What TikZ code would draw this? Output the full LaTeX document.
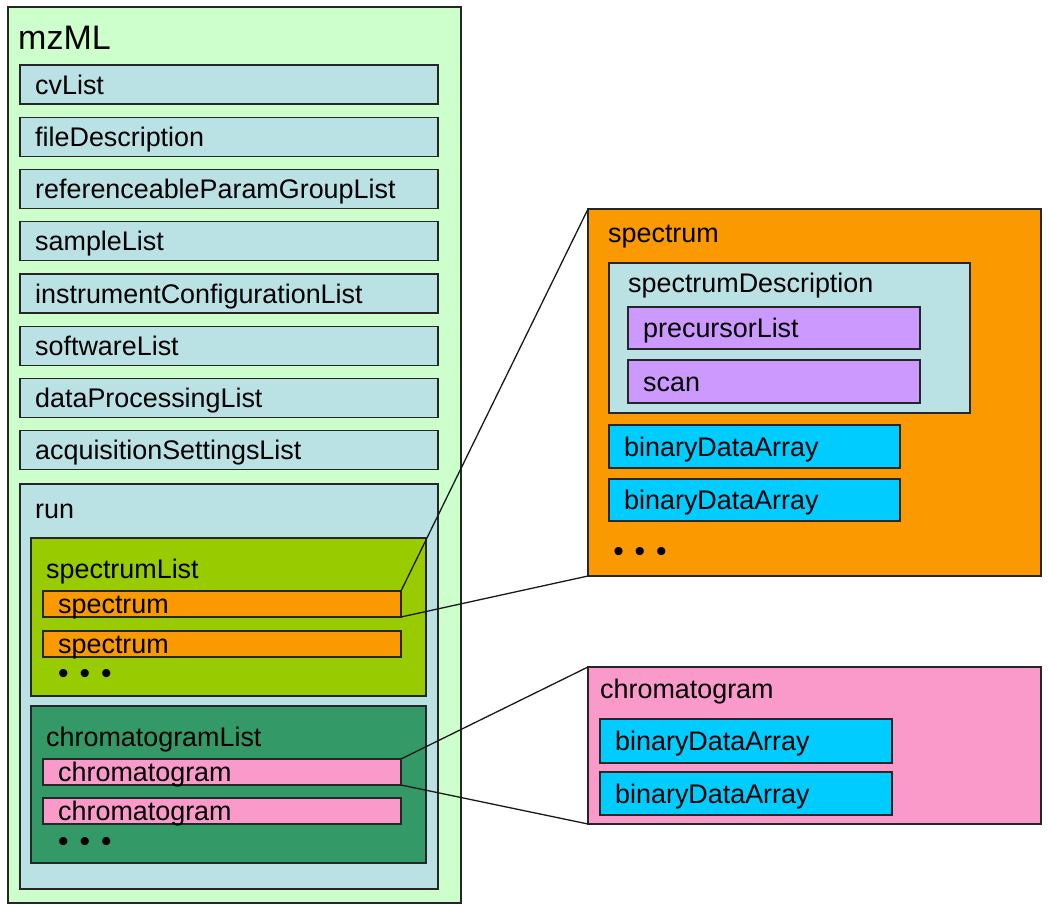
\documentclass[tikz,border=0pt]{standalone}
\usepackage{fontspec}
\setmainfont{Liberation Sans}
\usetikzlibrary{calc}
\definecolor{cmz}{HTML}{CCFFCC}
\definecolor{clist}{HTML}{BAE1E3}
\definecolor{cspl}{HTML}{99CC00}
\definecolor{cchl}{HTML}{339966}
\definecolor{cspec}{HTML}{FA9A00}
\definecolor{cchrom}{HTML}{F99ACB}
\definecolor{cpurp}{HTML}{CC99FF}
\definecolor{ccyan}{HTML}{00CCFF}
\newcommand\mybox[6]{\node[box,fill=#6,minimum width={(#4-#2)*1pt},minimum height={(#5-#3)*1pt}] (#1) at (#2,#3) {};}
\begin{document}
\begin{tikzpicture}[x=1pt,y=-1pt,
  box/.style={draw=black!85, line width=1.3pt, inner sep=0pt, outer sep=0pt, anchor=north west},
  lbl/.style={anchor=base west, inner sep=0pt, font=\fontsize{26.9}{30}\selectfont},
  big/.style={anchor=base west, inner sep=0pt, font=\fontsize{34}{38}\selectfont},
  dots/.style={anchor=base, inner sep=0pt, text height=15pt, text depth=0pt, font=\fontsize{30}{32}\selectfont},
  link/.style={draw=black!90, line width=1.3pt}]
\useasboundingbox (0,0) rectangle (1050,909);
% outer mzML
\mybox{mz}{8}{7}{461}{903}{cmz}
\node[big] (tmz) at (18,50) {mzML};
% list boxes
\mybox{cv}{20}{65}{438}{104}{clist}
\node[lbl] (tcv) at ($(cv.west)+(15,9.6)$) {cvList};
\mybox{fd}{20}{117.3}{438}{156.3}{clist}
\node[lbl] (tfd) at ($(fd.west)+(15,9.6)$) {fileDescription};
\mybox{rp}{20}{169.5}{438}{208.5}{clist}
\node[lbl] (trp) at ($(rp.west)+(15,9.6)$) {referenceableParamGroupList};
\mybox{sl}{20}{221.8}{438}{260.8}{clist}
\node[lbl] (tsl) at ($(sl.west)+(15,9.6)$) {sampleList};
\mybox{ic}{20}{274}{438}{313}{clist}
\node[lbl] (tic) at ($(ic.west)+(15,9.6)$) {instrumentConfigurationList};
\mybox{sw}{20}{326.3}{438}{365.3}{clist}
\node[lbl] (tsw) at ($(sw.west)+(15,9.6)$) {softwareList};
\mybox{dp}{20}{378.5}{438}{417.5}{clist}
\node[lbl] (tdp) at ($(dp.west)+(15,9.6)$) {dataProcessingList};
\mybox{as}{20}{430.8}{438}{469.8}{clist}
\node[lbl] (tas) at ($(as.west)+(15,9.6)$) {acquisitionSettingsList};
% run
\mybox{run}{20}{484}{438}{889}{clist}
\node[lbl] (trun) at (35,518) {run};
% spectrumList
\mybox{spl}{31}{538}{426}{696}{cspl}
\node[lbl] (tspl) at (46,578) {spectrumList};
\mybox{sp1}{43}{591}{401}{617}{cspec}
\node[lbl] (tsp1) at ($(sp1.west)+(15,9.6)$) {spectrum};
\mybox{sp2}{43}{631}{401}{657}{cspec}
\node[lbl] (tsp2) at ($(sp2.west)+(15,9.6)$) {spectrum};
\node[dots] (dsp) at (85,683) {•\hspace{11pt}•\hspace{11pt}•};
% chromatogramList
\mybox{chl}{31}{706}{426}{863}{cchl}
\node[lbl] (tchl) at (46,746) {chromatogramList};
\mybox{ch1}{43}{759}{401}{785}{cchrom}
\node[lbl] (tch1) at ($(ch1.west)+(15,9.6)$) {chromatogram};
\mybox{ch2}{43}{798}{401}{824}{cchrom}
\node[lbl] (tch2) at ($(ch2.west)+(15,9.6)$) {chromatogram};
\node[dots] (dch) at (85,851) {•\hspace{11pt}•\hspace{11pt}•};
% big spectrum
\mybox{bsp}{588}{209}{1041}{576}{cspec}
\node[lbl] (tbsp) at (608,243) {spectrum};
\mybox{sd}{609}{263}{970}{413}{clist}
\node[lbl] (tsd) at (628,293) {spectrumDescription};
\mybox{pl}{628}{307}{920}{349}{cpurp}
\node[lbl] (tpl) at ($(pl.west)+(15,9.6)$) {precursorList};
\mybox{sc}{628}{360}{920}{403}{cpurp}
\node[lbl] (tsc) at ($(sc.west)+(15,9.6)$) {scan};
\mybox{ba1}{609}{425}{900}{468}{ccyan}
\node[lbl] (tba1) at ($(ba1.west)+(15,9.6)$) {binaryDataArray};
\mybox{ba2}{609}{479}{900}{521}{ccyan}
\node[lbl] (tba2) at ($(ba2.west)+(15,9.6)$) {binaryDataArray};
\node[dots] (dbsp) at (640,561) {•\hspace{11pt}•\hspace{11pt}•};
% big chromatogram
\mybox{bch}{588}{667}{1041}{824}{cchrom}
\node[lbl] (tbch) at (600,698) {chromatogram};
\mybox{cb1}{600}{719}{892}{763}{ccyan}
\node[lbl] (tcb1) at ($(cb1.west)+(15,9.6)$) {binaryDataArray};
\mybox{cb2}{600}{772}{892}{815}{ccyan}
\node[lbl] (tcb2) at ($(cb2.west)+(15,9.6)$) {binaryDataArray};
% connectors
\draw[link] (sp1.north east) -- (bsp.north west);
\draw[link] (sp1.south east) -- (bsp.south west);
\draw[link] (ch1.north east) -- (bch.north west);
\draw[link] (ch1.south east) -- (bch.south west);
\end{tikzpicture}
\end{document}
